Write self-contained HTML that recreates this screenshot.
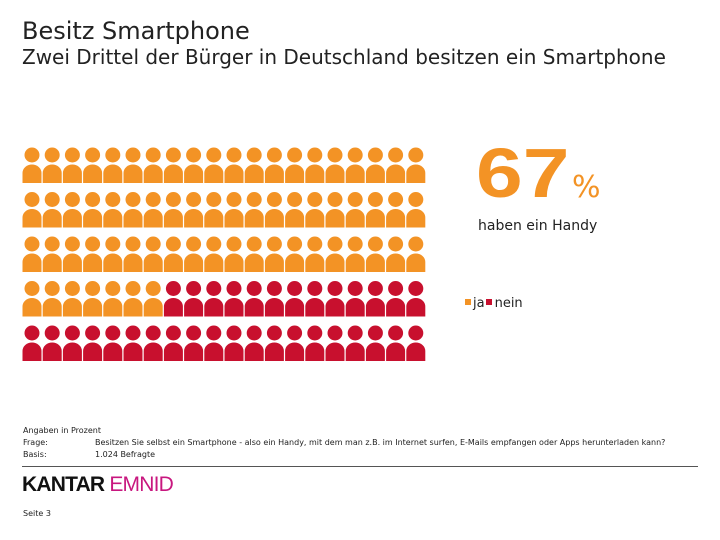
<!DOCTYPE html>
<html><head><meta charset="utf-8">
<style>
body{margin:0;width:720px;height:540px;background:#fff;position:relative;overflow:hidden;font-family:"DejaVu Sans","Liberation Sans",sans-serif;color:#222}
.a{position:absolute;white-space:nowrap}
</style></head><body>
<div class="a" style="left:22px;top:17px;font-size:24px;">Besitz Smartphone</div>
<div class="a" style="left:22px;top:45px;font-size:20px;">Zwei Drittel der Bürger in Deutschland besitzen ein Smartphone</div>
<svg class="a" style="left:0;top:0" width="720" height="540" id="chart"></svg>
<div class="a" style="left:476px;top:133px;font-size:70px;font-weight:bold;color:#f39325;font-family:'Liberation Sans',sans-serif;transform:scaleX(1.2);transform-origin:left top" id="big">67</div>
<div class="a" style="left:572px;top:170px;font-size:30px;color:#f39325;">%</div>
<div class="a" style="left:478px;top:218px;font-size:14px;">haben ein Handy</div>
<div class="a" style="left:465px;top:296px;font-size:13px;">
<span><span style="display:inline-block;width:6px;height:6px;background:#f39325;margin-right:2px;vertical-align:2px"></span>ja</span><span><span style="display:inline-block;width:6px;height:6px;background:#c8102e;margin:0 3px 0 1px;vertical-align:2px"></span>nein</span></div>
<div class="a" style="left:23px;top:425px;font-size:8px;line-height:12px;">Angaben in Prozent<br>Frage:<br>Basis:</div>
<div class="a" style="left:95px;top:437px;font-size:8px;line-height:12px;">Besitzen Sie selbst ein Smartphone - also ein Handy, mit dem man z.B. im Internet surfen, E-Mails empfangen oder Apps herunterladen kann?<br>1.024 Befragte</div>
<div class="a" style="left:22px;top:466px;width:676px;height:1px;background:#555"></div>
<div class="a" style="left:22px;top:473px;font-size:21px;font-weight:bold;font-family:'Liberation Sans',sans-serif;letter-spacing:-0.8px"><span style="color:#111">KANTAR</span> <span style="color:#c8177f;font-weight:normal">EMNID</span></div>
<div class="a" style="left:23px;top:509px;font-size:8px;">Seite 3</div>
<script>
const categories=["ja","nein"];
const values=[67,33];
const colors=["#f39325","#c8102e"];
const svg=document.getElementById('chart');
const NS="http://www.w3.org/2000/svg";
const cols=20,x0=32,dx=20.2,y0=155,dy=44.5;
for(let i=0;i<100;i++){
  const r=Math.floor(i/cols),c=i%cols;
  const col=i<values[0]?colors[0]:colors[1];
  const cx=x0+c*dx,cy=y0+r*dy;
  const g=document.createElementNS(NS,'g');
  
  
  const h=document.createElementNS(NS,'circle');
  h.setAttribute('cx',cx);h.setAttribute('cy',cy);h.setAttribute('r',7.5);h.setAttribute('fill',col);
  const b=document.createElementNS(NS,'path');
  b.setAttribute('d',`M${cx-9.5},${cy+28} V${cy+18} A9.5,8.5 0 0 1 ${cx+9.5},${cy+18} V${cy+28} Z`);
  b.setAttribute('fill',col);
  g.appendChild(h);g.appendChild(b);svg.appendChild(g);
}
document.getElementById('big').textContent=values[0];
</script>
</body></html>
